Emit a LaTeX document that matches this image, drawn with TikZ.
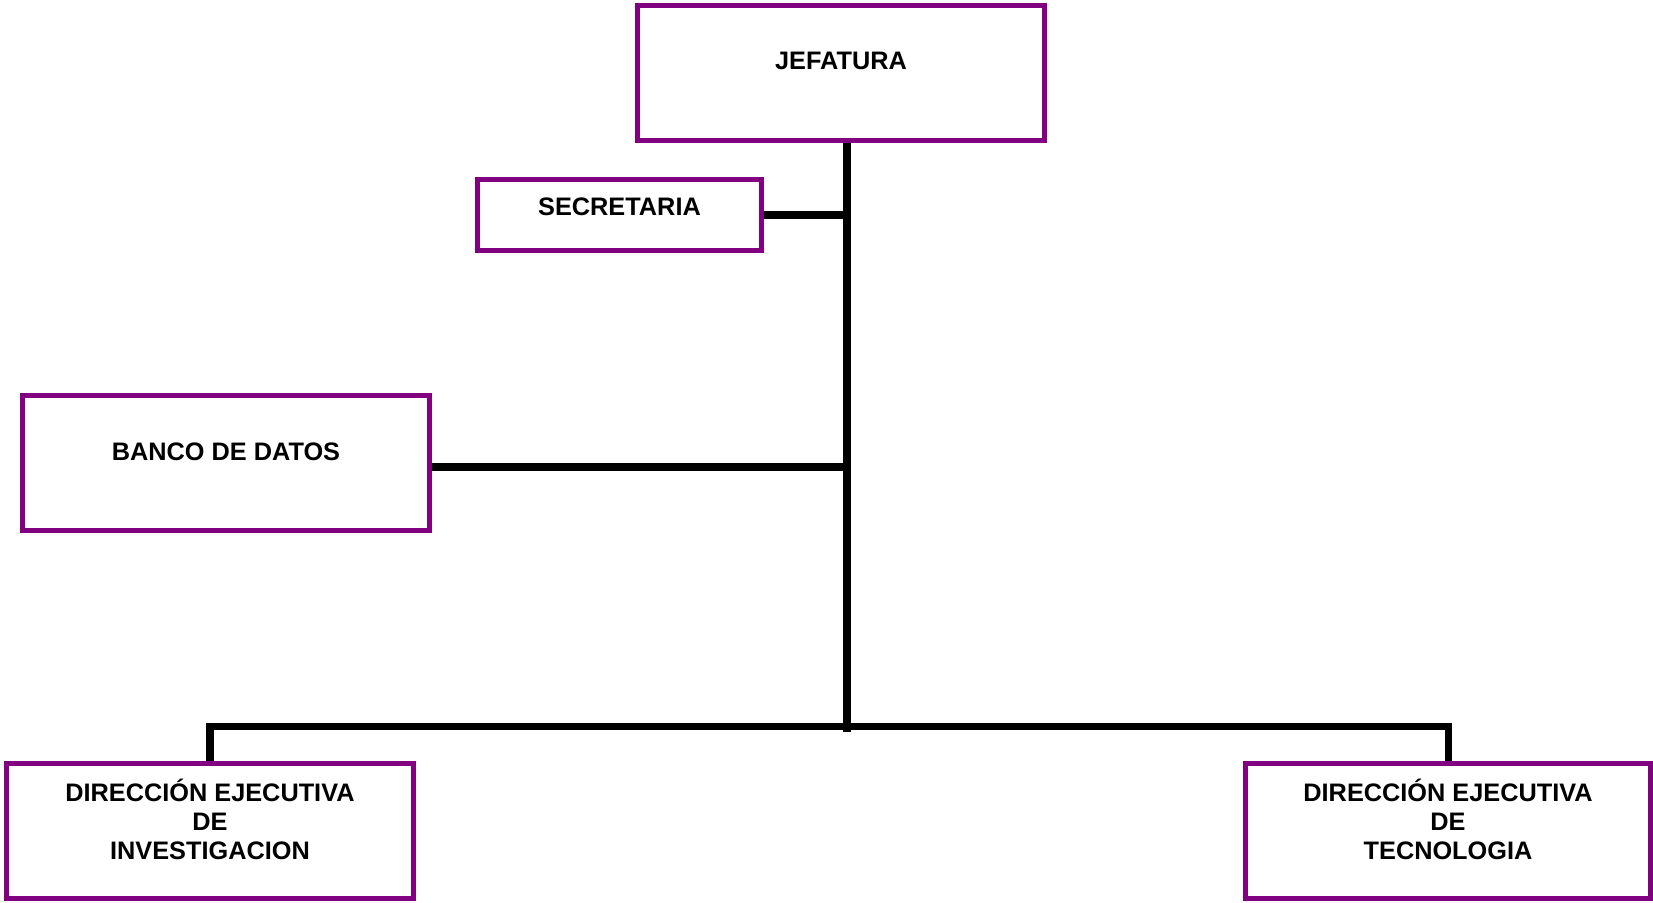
\documentclass[tikz,border=0pt]{standalone}
\usepackage{fontspec}
\setmainfont{Liberation Sans}
\definecolor{boxpurple}{RGB}{128,0,128}

\begin{document}
\begin{tikzpicture}[
    unit/.style={draw=boxpurple, line width=2.8pt, rectangle, align=center, minimum width=8.14cm, minimum height=2.7cm, font=\fontsize{14.4}{16.5}\selectfont\bfseries},
    link/.style={black, line width=4pt}]
    \useasboundingbox (0, 0) rectangle (33.06, -18.04);

    \node (jefatura) [unit, text depth=0.48cm] at (16.82, -1.46) {JEFATURA};
    \node (secretaria) [unit, minimum width=5.68cm, minimum height=1.42cm, text depth=0.32cm] at (12.39, -4.30) {SECRETARIA};
    \node (banco) [unit, text depth=0.44cm] at (4.52, -9.26) {BANCO DE DATOS};
    \node (investigacion) [unit, text depth=0.48cm] at (4.20, -16.62) {DIRECCIÓN EJECUTIVA\\DE\\INVESTIGACION};
    \node (tecnologia) [unit, minimum width=8.1cm, text depth=0.48cm] at (28.96, -16.62) {DIRECCIÓN EJECUTIVA\\DE\\TECNOLOGIA};

    \coordinate (trunk) at (16.94, -14.64);
    \coordinate (bar) at (16.94, -14.53);

    \draw [link] (jefatura.south -| trunk) -- (trunk);
    \draw [link] (secretaria.east) -- (secretaria.east -| trunk);
    \draw [link] ([yshift=-0.08cm]banco.east) -- ([yshift=-0.08cm]banco.east -| trunk);
    \draw [link] (investigacion.north) |- (bar) -| (tecnologia.north);
\end{tikzpicture}
\end{document}
